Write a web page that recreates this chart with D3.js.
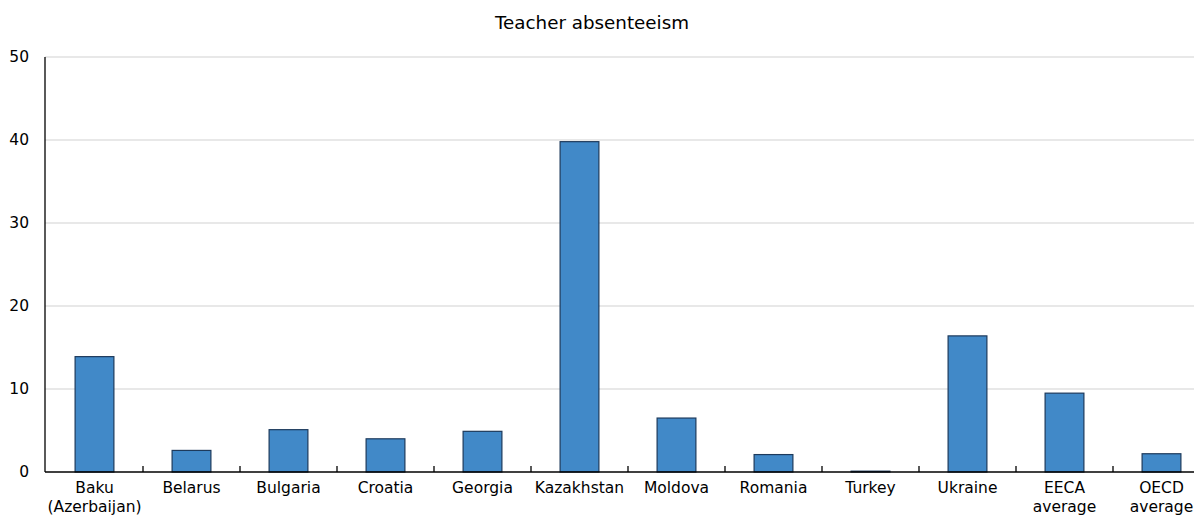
<!DOCTYPE html>
<html><head><meta charset="utf-8">
<script src="https://cdn.jsdelivr.net/npm/d3@7"></script>
<style>body{margin:0;background:#fff}svg{display:block}</style>
</head><body><svg id="c" width="1194" height="517"></svg>
<script>
const categories = [["Baku","(Azerbaijan)"],["Belarus"],["Bulgaria"],["Croatia"],["Georgia"],["Kazakhstan"],["Moldova"],["Romania"],["Turkey"],["Ukraine"],["EECA","average"],["OECD","average"]];
const values = [13.9, 2.6, 5.1, 4.0, 4.9, 39.8, 6.5, 2.1, 0.1, 16.4, 9.5, 2.2];
const yTicks = [0, 10, 20, 30, 40, 50];
const title = "Teacher absenteeism";

const svg = d3.select("#c");
const font = "DejaVu Sans, Verdana, sans-serif";
const x = d3.scaleBand().domain(categories.map((d,i)=>i)).range([46, 1210]).paddingInner(0.6).paddingOuter(0.3);
const y = d3.scaleLinear().domain([0, 50]).range([472, 57]);

// gridlines
svg.append("g").selectAll("line").data(yTicks.filter(t=>t>0)).join("line")
  .attr("x1", 45).attr("x2", 1194).attr("y1", d=>y(d)).attr("y2", d=>y(d))
  .attr("stroke", "#e1e1e1").attr("stroke-width", 1.5);

// y axis labels
svg.append("g").selectAll("text").data(yTicks).join("text")
  .attr("x", 29).attr("y", d=>y(d)).attr("dy", "0.35em").attr("text-anchor", "end")
  .attr("font-family", font).attr("font-size", 15.5).attr("fill", "#000").text(d=>d);

// bars
svg.append("g").selectAll("rect").data(values).join("rect")
  .attr("x", (d,i)=>x(i)).attr("width", x.bandwidth())
  .attr("y", d=>y(d)).attr("height", d=>y(0)-y(d))
  .attr("fill", "#4189c8").attr("stroke", "#1d3a5c").attr("stroke-width", 1.2);

// axes lines
svg.append("line").attr("x1", 45).attr("x2", 45).attr("y1", 57).attr("y2", 472).attr("stroke", "#000").attr("stroke-width", 1.3);
svg.append("line").attr("x1", 45).attr("x2", 1194).attr("y1", 472).attr("y2", 472).attr("stroke", "#000").attr("stroke-width", 1.3);

// category ticks between bands
const step = x.step();
svg.append("g").selectAll("line").data(categories.slice(1).map((d,i)=>i+1)).join("line")
  .attr("x1", i=>x(i) - (step - x.bandwidth())/2).attr("x2", i=>x(i) - (step - x.bandwidth())/2)
  .attr("y1", 466).attr("y2", 472).attr("stroke", "#000").attr("stroke-width", 1.3);

// category labels
const lab = svg.append("g").selectAll("text").data(categories).join("text")
  .attr("text-anchor", "middle").attr("font-family", font).attr("font-size", 15.5).attr("fill", "#000")
  .attr("transform", (d,i)=>`translate(${x(i)+x.bandwidth()/2},493)`);
lab.selectAll("tspan").data(d=>d).join("tspan").attr("x", 0).attr("dy", (d,j)=>j===0?0:19).text(d=>d);

// title
svg.append("text").attr("x", 592).attr("y", 29).attr("text-anchor", "middle")
  .attr("font-family", font).attr("font-size", 18.3).attr("fill", "#000").text(title);
</script></body></html>
